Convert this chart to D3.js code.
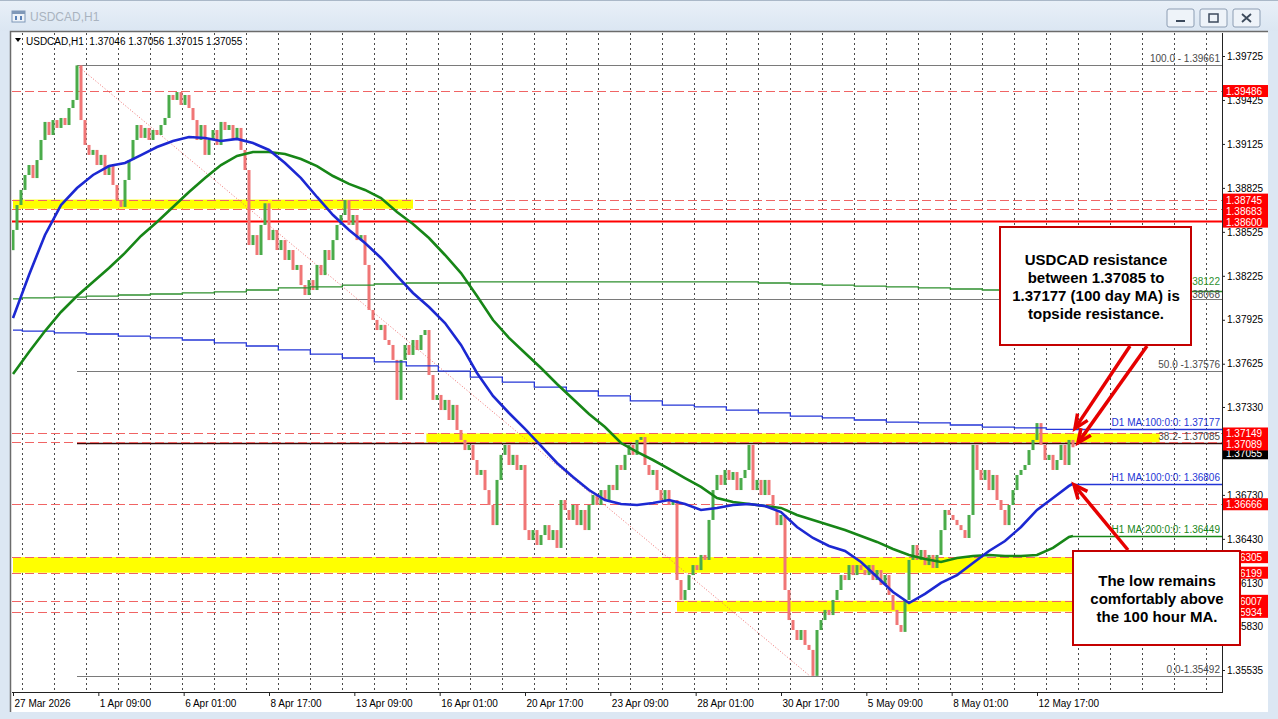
<!DOCTYPE html>
<html>
<head>
<meta charset="utf-8">
<script src="https://cdn.jsdelivr.net/npm/d3@7"></script>
<style>
  body { margin: 0; background: #dce7f3; overflow: hidden; }
  svg { display: block; }
  text { font-family: "Liberation Sans", Arial, sans-serif; }
</style>
</head>
<body>
<svg id="chart" width="1278" height="719"></svg>
<script>
// ---- data (USDCAD H1, one close every 3 bars) ----
var firstOpen = 1.38400;
var closes = [
  1.38538,1.38708,1.38811,1.38913,1.38981,1.38892,1.39015,1.39152,1.39275,1.39186,
  1.39288,1.39234,1.39302,1.39254,1.39370,1.39425,1.39661,1.39288,1.39118,1.39050,
  1.39084,1.38981,1.39050,1.38913,1.38981,1.38845,1.38742,1.38695,1.38879,1.39015,
  1.39152,1.39254,1.39166,1.39234,1.39152,1.39220,1.39186,1.39254,1.39302,1.39459,
  1.39425,1.39479,1.39391,1.39459,1.39370,1.39288,1.39152,1.39254,1.39050,1.39152,
  1.39220,1.39118,1.39275,1.39220,1.39254,1.39152,1.39234,1.39084,1.38947,1.38435,
  1.38503,1.38367,1.38572,1.38720,1.38469,1.38538,1.38401,1.38469,1.38333,1.38401,
  1.38265,1.38299,1.38162,1.38094,1.38196,1.38128,1.38299,1.38230,1.38401,1.38333,
  1.38469,1.38572,1.38640,1.38742,1.38572,1.38640,1.38469,1.38503,1.38299,1.37992,
  1.37924,1.37855,1.37890,1.37787,1.37753,1.37651,1.37378,1.37651,1.37753,1.37685,
  1.37787,1.37719,1.37821,1.37855,1.37548,1.37378,1.37412,1.37309,1.37378,1.37241,
  1.37344,1.37173,1.37105,1.37036,1.37071,1.36968,1.36866,1.36900,1.36763,1.36661,
  1.36524,1.36832,1.37003,1.37071,1.36934,1.37003,1.36900,1.36934,1.36490,1.36422,
  1.36490,1.36388,1.36456,1.36524,1.36422,1.36490,1.36368,1.36695,1.36627,1.36559,
  1.36661,1.36524,1.36627,1.36490,1.36661,1.36729,1.36661,1.36763,1.36695,1.36798,
  1.36763,1.36934,1.36900,1.37003,1.37071,1.37003,1.37105,1.37125,1.36934,1.36866,
  1.36900,1.36763,1.36695,1.36763,1.36661,1.36695,1.36149,1.36013,1.36081,1.36183,
  1.36251,1.36217,1.36320,1.36286,1.36559,1.36763,1.36866,1.36798,1.36900,1.36832,
  1.36886,1.36763,1.36845,1.36900,1.37071,1.36763,1.36832,1.36729,1.36832,1.36729,
  1.36627,1.36524,1.36593,1.36081,1.35876,1.35808,1.35740,1.35808,1.35706,1.35672,
  1.35495,1.35808,1.35876,1.35945,1.35910,1.36013,1.36081,1.36183,1.36149,1.36251,
  1.36183,1.36251,1.36217,1.36183,1.36251,1.36149,1.36217,1.36115,1.36183,1.36047,
  1.35945,1.35842,1.35795,1.36013,1.36286,1.36388,1.36286,1.36354,1.36251,1.36320,
  1.36231,1.36320,1.36490,1.36627,1.36593,1.36559,1.36524,1.36490,1.36436,1.36593,
  1.37071,1.36900,1.36832,1.36900,1.36763,1.36866,1.36695,1.36627,1.36524,1.36661,
  1.36763,1.36866,1.36900,1.36934,1.37036,1.37105,1.37220,1.37071,1.36968,1.37003,
  1.36900,1.36968,1.37071,1.36934,1.37105,1.37055
];
var barStep = 3;
var lastBar = 795;

// hourly moving averages, one value every 12 bars plus the last bar
var maBars = d3.range(0, 793, 12).concat([lastBar]);
var h1Ma100 = [
  1.37937,1.38231,1.38504,1.38708,1.38824,1.38913,1.38974,1.38995,1.39049,1.39104,
  1.39145,1.39172,1.39165,1.39145,1.39159,1.39131,1.39084,1.38995,1.38892,1.38763,
  1.38640,1.38538,1.38449,1.38347,1.38224,1.38108,1.38012,1.37903,1.37753,1.37562,
  1.37405,1.37289,1.37180,1.37064,1.36948,1.36852,1.36763,1.36695,1.36668,1.36661,
  1.36675,1.36695,1.36668,1.36627,1.36641,1.36661,1.36668,1.36654,1.36613,1.36511,
  1.36436,1.36381,1.36347,1.36272,1.36170,1.36067,1.35992,1.36054,1.36129,1.36183,
  1.36265,1.36347,1.36415,1.36511,1.36627,1.36709,1.36791,1.36806
];
var h1Ma200 = [
  1.37555,1.37705,1.37848,1.37978,1.38087,1.38183,1.38278,1.38381,1.38497,1.38592,
  1.38695,1.38797,1.38892,1.38981,1.39043,1.39070,1.39070,1.39056,1.39022,1.38974,
  1.38906,1.38852,1.38811,1.38756,1.38660,1.38579,1.38483,1.38367,1.38244,1.38087,
  1.37923,1.37801,1.37698,1.37596,1.37487,1.37384,1.37282,1.37193,1.37084,1.37023,
  1.36968,1.36907,1.36845,1.36784,1.36709,1.36682,1.36668,1.36654,1.36641,1.36593,
  1.36559,1.36525,1.36490,1.36449,1.36409,1.36361,1.36320,1.36293,1.36272,1.36299,
  1.36313,1.36320,1.36313,1.36313,1.36320,1.36368,1.36443,1.36449
];

// daily moving averages, one value per day
var dayStarts = [0].concat(d3.range(7, lastBar, 24));
var d1Ma100 = [
  1.37855,1.37848,1.37835,1.37828,1.37814,1.37801,1.37787,1.37767,1.37746,1.37719,
  1.37691,1.37664,1.37637,1.37610,1.37575,1.37534,1.37500,1.37466,1.37439,1.37405,
  1.37371,1.37343,1.37330,1.37309,1.37289,1.37268,1.37255,1.37241,1.37227,1.37221,
  1.37207,1.37193,1.37187,1.37177
];
var d1Ma200 = [
  1.38067,1.38074,1.38080,1.38087,1.38094,1.38101,1.38108,1.38115,1.38128,1.38142,
  1.38149,1.38162,1.38169,1.38176,1.38176,1.38183,1.38183,1.38183,1.38183,1.38183,
  1.38183,1.38183,1.38183,1.38183,1.38176,1.38169,1.38162,1.38155,1.38149,1.38142,
  1.38135,1.38128,1.38122,1.38122
];

// axis labels
var timeBars = d3.range(0, 769, 64);
var timeLabels = ["27 Mar 2026", "1 Apr 09:00", "6 Apr 01:00", "8 Apr 17:00", "13 Apr 09:00",
  "16 Apr 01:00", "20 Apr 17:00", "23 Apr 09:00", "28 Apr 01:00", "30 Apr 17:00",
  "5 May 09:00", "8 May 01:00", "12 May 17:00"];
var priceTicks = [1.39725, 1.39425, 1.39125, 1.38825, 1.38525, 1.38225, 1.37925, 1.37625,
  1.37330, 1.36730, 1.36430, 1.36130, 1.35830, 1.35535];

// horizontal levels and support / resistance zones
var levelPrices = [1.39486, 1.38745, 1.38683, 1.38600, 1.37149, 1.37089, 1.36666, 1.36305, 1.36199, 1.36007, 1.35934];
var solidLevel = 1.38600;
var zoneLow = [1.38683, 1.37089, 1.36199, 1.35934];
var zoneHigh = [1.38745, 1.37149, 1.36305, 1.36007];
var zoneFrom = [0, 310, 0, 498];
var zoneTo = [300, 860, 907, 797];

// fibonacci retracement
var fiboBars = [48, 598];
var fiboPrices = [1.39661, 1.38068, 1.37576, 1.37085, 1.35492];
var fiboLabels = ["100.0 - 1.39661", "61.8 - 1.38068", "50.0 -1.37576", "38.2- 1.37085", "0.0-1.35492"];
var ohlcHeader = "USDCAD,H1  1.37046 1.37056 1.37015 1.37055";
var lastPrice = 1.37055;

// ---- layout ----
var svg = d3.select('#chart');
var plot = { left: 12, right: 1222, top: 33, bottom: 692 };
var x = d3.scaleLinear().domain([0, 907]).range([13, 13 + 907 * 4 / 3]);
var y = d3.scaleLinear().domain([1.35535, 1.39725]).range([670, 56]);

// window chrome
var defs = svg.append('defs');
var tg = defs.append('linearGradient').attr('id', 'titleGrad').attr('x1', 0).attr('y1', 0).attr('x2', 0).attr('y2', 1);
tg.append('stop').attr('offset', '0%').attr('stop-color', '#e9f0f8');
tg.append('stop').attr('offset', '100%').attr('stop-color', '#dbe6f2');
svg.append('rect').attr('width', 1278).attr('height', 719).attr('fill', '#dce7f3');
svg.append('rect').attr('width', 1278).attr('height', 31).attr('fill', 'url(#titleGrad)');
svg.append('line').attr('x1', 0).attr('x2', 1278).attr('y1', 0.5).attr('y2', 0.5).attr('stroke', '#aab8c8');

var icon = svg.append('g').attr('transform', 'translate(12,11)');
icon.append('rect').attr('width', 13).attr('height', 11).attr('fill', '#eef3f9').attr('stroke', '#7f98b8');
icon.append('rect').attr('width', 13).attr('height', 3).attr('fill', '#7f98b8');
icon.append('rect').attr('x', 3).attr('y', 5).attr('width', 2).attr('height', 4).attr('fill', '#5a82b8');
icon.append('rect').attr('x', 8).attr('y', 5).attr('width', 2).attr('height', 4).attr('fill', '#5a82b8');
svg.append('text').attr('x', 30).attr('y', 21).attr('font-size', 12).attr('fill', '#a9b3bf').text('USDCAD,H1');

[1167, 1200, 1233].forEach(function(bx, i) {
  var b = svg.append('g').attr('transform', 'translate(' + bx + ',9)');
  b.append('rect').attr('width', 27).attr('height', 18).attr('rx', 2)
    .attr('fill', '#eef3f9').attr('stroke', '#8c9db3');
  if (i === 0) {
    b.append('rect').attr('x', 9).attr('y', 11).attr('width', 9).attr('height', 2).attr('fill', '#3c4a5c');
  } else if (i === 1) {
    b.append('rect').attr('x', 9).attr('y', 5).attr('width', 9).attr('height', 8)
      .attr('fill', 'none').attr('stroke', '#3c4a5c').attr('stroke-width', 1.5);
  } else {
    b.append('path').attr('d', 'M9,5L18,13M18,5L9,13').attr('stroke', '#3c4a5c').attr('stroke-width', 1.8);
  }
});

// chart panel
svg.append('rect').attr('x', 10).attr('y', 31).attr('width', 1258).attr('height', 681).attr('fill', '#fff');
svg.append('path').attr('d', 'M10.5,712V31.5H1268').attr('fill', 'none').attr('stroke', '#6b6b6b').attr('stroke-width', 1.5);

defs.append('clipPath').attr('id', 'plotClip').append('rect')
  .attr('x', plot.left).attr('y', plot.top).attr('width', plot.right - plot.left).attr('height', plot.bottom - plot.top);
var g = svg.append('g').attr('clip-path', 'url(#plotClip)');

// vertical grid, one line per day
g.selectAll('.grid').data(d3.range(7, 907, 24)).enter().append('line')
  .attr('class', 'grid')
  .attr('x1', function(d) { return Math.round(x(d)) + 0.5; })
  .attr('x2', function(d) { return Math.round(x(d)) + 0.5; })
  .attr('y1', plot.top).attr('y2', plot.bottom)
  .attr('stroke', '#4a4a4a').attr('stroke-dasharray', '2,3');

// yellow zones
g.selectAll('.zone').data(zoneLow).enter().append('rect')
  .attr('class', 'zone')
  .attr('x', function(d, i) { return x(zoneFrom[i]); })
  .attr('width', function(d, i) { return x(zoneTo[i]) - x(zoneFrom[i]); })
  .attr('y', function(d, i) { return y(zoneHigh[i]); })
  .attr('height', function(d, i) { return y(d) - y(zoneHigh[i]); })
  .attr('fill', '#ffff00');

// fibonacci levels and trend line
g.selectAll('.fibo').data(fiboPrices).enter().append('line')
  .attr('class', 'fibo')
  .attr('x1', x(fiboBars[0])).attr('x2', plot.right)
  .attr('y1', function(d) { return Math.round(y(d)) + 0.5; })
  .attr('y2', function(d) { return Math.round(y(d)) + 0.5; })
  .attr('stroke', function(d, i) { return i === 3 ? '#3a0808' : '#7a7a7a'; })
  .attr('stroke-width', function(d, i) { return i === 3 ? 1.5 : 1; });
g.append('line')
  .attr('x1', x(fiboBars[0])).attr('y1', y(fiboPrices[0]))
  .attr('x2', x(fiboBars[1])).attr('y2', y(fiboPrices[4]))
  .attr('stroke', '#f07070').attr('stroke-dasharray', '1,2');

// horizontal levels
g.selectAll('.level').data(levelPrices).enter().append('line')
  .attr('class', 'level')
  .attr('x1', plot.left).attr('x2', plot.right)
  .attr('y1', function(d) { return Math.round(y(d)) + 0.5; })
  .attr('y2', function(d) { return Math.round(y(d)) + 0.5; })
  .attr('stroke', function(d) { return d === solidLevel ? '#ff0000' : '#f06464'; })
  .attr('stroke-width', function(d) { return d === solidLevel ? 2 : 1; })
  .attr('stroke-dasharray', function(d) { return d === solidLevel ? null : '9,4'; });

// price bars
g.selectAll('.bar').data(closes).enter().append('rect')
  .attr('class', 'bar')
  .attr('x', function(d, i) { return x(i * barStep) - 1.5; })
  .attr('width', 3)
  .attr('y', function(d, i) { var o = i ? closes[i - 1] : firstOpen; return y(Math.max(o, d)); })
  .attr('height', function(d, i) { var o = i ? closes[i - 1] : firstOpen; return Math.max(1, Math.abs(y(o) - y(d))); })
  .attr('fill', function(d, i) { var o = i ? closes[i - 1] : firstOpen; return d >= o ? '#4aab4a' : '#f07676'; });

// moving averages
function seriesPoints(bars, vals) { return bars.map(function(b, i) { return [b, vals[i]]; }); }
var lineFn = d3.line().x(function(d) { return x(d[0]); }).y(function(d) { return y(d[1]); });
var stepFn = d3.line().x(function(d) { return x(d[0]); }).y(function(d) { return y(d[1]); }).curve(d3.curveStepAfter);
var d1Bars = dayStarts.concat([lastBar]);

g.append('path').datum(seriesPoints(d1Bars, d1Ma200.concat([d1Ma200[d1Ma200.length - 1]])))
  .attr('d', stepFn).attr('fill', 'none').attr('stroke', '#2e8f2e').attr('stroke-width', 1.3);
g.append('path').datum(seriesPoints(d1Bars, d1Ma100.concat([d1Ma100[d1Ma100.length - 1]])))
  .attr('d', stepFn).attr('fill', 'none').attr('stroke', '#2436d6').attr('stroke-width', 1.3);
g.append('path').datum(seriesPoints(maBars, h1Ma200))
  .attr('d', lineFn).attr('fill', 'none').attr('stroke', '#178617').attr('stroke-width', 2.6);
g.append('path').datum(seriesPoints(maBars, h1Ma100))
  .attr('d', lineFn).attr('fill', 'none').attr('stroke', '#1c28d2').attr('stroke-width', 2.6);

// last-value lines of the averages, out to the price scale
var maEnds = [
  { v: d1Ma200[d1Ma200.length - 1], c: '#2e8f2e', label: '1.38122', dy: -6 },
  { v: d1Ma100[d1Ma100.length - 1], c: '#2436d6', label: 'D1 MA:100:0:0: 1.37177', dy: -3 },
  { v: h1Ma100[h1Ma100.length - 1], c: '#2436d6', label: 'H1 MA:100:0:0: 1.36806', dy: -3 },
  { v: h1Ma200[h1Ma200.length - 1], c: '#178617', label: 'H1 MA:200:0:0: 1.36449', dy: -3 }
];
g.selectAll('.maEnd').data(maEnds).enter().append('line')
  .attr('class', 'maEnd')
  .attr('x1', x(lastBar)).attr('x2', plot.right)
  .attr('y1', function(d) { return Math.round(y(d.v)) + 0.5; })
  .attr('y2', function(d) { return Math.round(y(d.v)) + 0.5; })
  .attr('stroke', function(d) { return d.c; }).attr('stroke-width', 1.3);

// line labels
g.selectAll('.maLabel').data(maEnds).enter().append('text')
  .attr('class', 'maLabel')
  .attr('x', plot.right - 2).attr('y', function(d) { return y(d.v) + d.dy; })
  .attr('text-anchor', 'end').attr('font-size', 10)
  .attr('fill', function(d) { return d.c; })
  .text(function(d) { return d.label; });
g.selectAll('.fiboLabel').data(fiboPrices).enter().append('text')
  .attr('class', 'fiboLabel')
  .attr('x', plot.right - 2).attr('y', function(d, i) { return y(d) - (i === 1 ? 1 : 3); })
  .attr('text-anchor', 'end').attr('font-size', 10).attr('fill', '#4a4a4a')
  .text(function(d, i) { return fiboLabels[i]; });

// header
svg.append('path').attr('d', 'M15,38h6l-3,4z').attr('fill', '#000');
svg.append('text').attr('x', 26).attr('y', 45).attr('font-size', 10).attr('fill', '#000')
  .attr('xml:space', 'preserve').style('white-space', 'pre').text(ohlcHeader);

// axes
var yAxis = svg.append('g').attr('transform', 'translate(' + plot.right + ',0)')
  .call(d3.axisRight(y).tickValues(priceTicks).tickFormat(d3.format('.5f')).tickSize(3).tickSizeOuter(0));
yAxis.select('.domain').attr('d', 'M0.5,' + plot.top + 'V' + (plot.bottom + 1)).attr('stroke', '#222');
yAxis.selectAll('text').attr('font-family', '"Liberation Sans", Arial, sans-serif').attr('font-size', 10).attr('x', 5).attr('fill', '#000');
yAxis.selectAll('line').attr('stroke', '#222');

var xAxis = svg.append('g').attr('transform', 'translate(0,' + plot.bottom + ')')
  .call(d3.axisBottom(x).tickValues(timeBars).tickFormat(function(d, i) { return timeLabels[i]; }).tickSize(4).tickSizeOuter(0));
xAxis.select('.domain').attr('d', 'M' + plot.left + ',0.5H' + (plot.right + 1)).attr('stroke', '#222');
xAxis.selectAll('text').attr('font-family', '"Liberation Sans", Arial, sans-serif').attr('font-size', 10)
  .attr('text-anchor', 'start').attr('x', 1).attr('y', 8).attr('fill', '#000');
xAxis.selectAll('line').attr('stroke', '#222');

// price labels on the scale
var tags = svg.append('g');
var cy = y(lastPrice) + 6;
tags.append('rect').attr('x', plot.right + 1).attr('y', cy - 6).attr('width', 45).attr('height', 12).attr('fill', '#000');
tags.append('text').attr('x', plot.right + 4).attr('y', cy + 4).attr('font-size', 10).attr('fill', '#fff').text(d3.format('.5f')(lastPrice));
var prevY = -100;
levelPrices.forEach(function(p) {
  var ty = Math.max(y(p), prevY + 11);
  prevY = ty;
  tags.append('rect').attr('x', plot.right + 1).attr('y', ty - 6).attr('width', 45).attr('height', 12).attr('fill', '#ff0000');
  tags.append('text').attr('x', plot.right + 4).attr('y', ty + 4).attr('font-size', 10).attr('fill', '#fff').text(d3.format('.5f')(p));
});

// annotations
var notes = svg.append('g');
function noteBox(x0, y0, w, h, lines, cx, firstY) {
  notes.append('rect').attr('x', x0).attr('y', y0).attr('width', w).attr('height', h)
    .attr('fill', '#fff').attr('stroke', '#c40000').attr('stroke-width', 2);
  notes.selectAll(null).data(lines).enter().append('text')
    .attr('x', cx).attr('y', function(d, i) { return firstY + i * 18; })
    .attr('text-anchor', 'middle').attr('font-size', 15).attr('font-weight', 'bold').attr('fill', '#000')
    .text(function(d) { return d; });
}
function arrow(x1, y1, x2, y2) {
  var a = Math.atan2(y2 - y1, x2 - x1), L = 15, s = 0.42;
  notes.append('line').attr('x1', x1).attr('y1', y1).attr('x2', x2).attr('y2', y2)
    .attr('stroke', '#e60000').attr('stroke-width', 3.5);
  notes.append('path')
    .attr('d', 'M' + (x2 - L * Math.cos(a - s)) + ',' + (y2 - L * Math.sin(a - s)) + 'L' + x2 + ',' + y2 +
      'L' + (x2 - L * Math.cos(a + s)) + ',' + (y2 - L * Math.sin(a + s)))
    .attr('fill', 'none').attr('stroke', '#e60000').attr('stroke-width', 3.5).attr('stroke-linejoin', 'miter');
}
noteBox(1000, 227, 191, 118, ["USDCAD resistance", "between 1.37085 to", "1.37177 (100 day MA) is", "topside resistance."], 1096, 265);
noteBox(1073, 551, 167, 94, ["The low remains", "comfortably above", "the 100 hour MA."], 1157, 586);
arrow(1130, 346, x(lastBar) + 2, y(d1Ma100[d1Ma100.length - 1]) - 1);
arrow(1147, 346, x(lastBar) + 5, y(fiboPrices[3]));
arrow(1128, 550, x(lastBar) + 1, y(h1Ma100[h1Ma100.length - 1]) + 1);
</script>
</body>
</html>
